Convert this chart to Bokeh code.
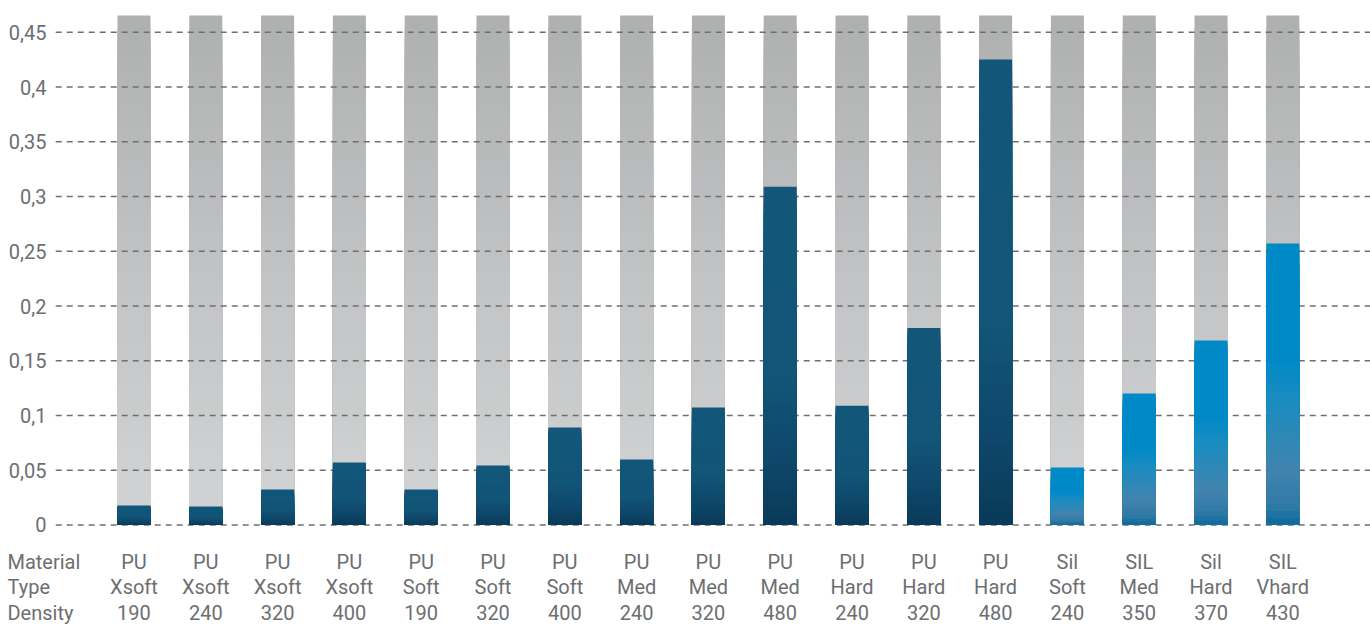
from bokeh.plotting import figure
from bokeh.embed import file_html
from bokeh.resources import INLINE
from bokeh.core.properties import value

# ---- data ----
materials = ["PU", "PU", "PU", "PU", "PU", "PU", "PU", "PU", "PU", "PU", "PU", "PU", "PU",
             "Sil", "SIL", "Sil", "SIL"]
types = ["Xsoft", "Xsoft", "Xsoft", "Xsoft", "Soft", "Soft", "Soft", "Med", "Med", "Med",
         "Hard", "Hard", "Hard", "Soft", "Med", "Hard", "Vhard"]
densities = ["190", "240", "320", "400", "190", "320", "400", "240", "320", "480",
             "240", "320", "480", "240", "350", "370", "430"]
values = [0.0178, 0.0169, 0.0324, 0.0571, 0.0324, 0.0543, 0.089, 0.0598, 0.1073, 0.309,
          0.109, 0.180, 0.4251, 0.0525, 0.1201, 0.1685, 0.2571]
row_headers = ["Material", "Type", "Density"]
y_ticks = [0, 0.05, 0.1, 0.15, 0.2, 0.25, 0.3, 0.35, 0.4, 0.45]
y_tick_labels = ["0", "0,05", "0,1", "0,15", "0,2", "0,25", "0,3", "0,35", "0,4", "0,45"]
background_max = 0.4653

# ---- style ----
TEXT_COLOR = "#6d6e71"
FONT = "Roboto"
BAR_W = 0.46
N = 40


def lerp(c1, c2, t):
    a = [int(c1[i:i + 2], 16) for i in (1, 3, 5)]
    b = [int(c2[i:i + 2], 16) for i in (1, 3, 5)]
    return "#%02x%02x%02x" % tuple(round(a[k] + (b[k] - a[k]) * t) for k in range(3))


def ramp(stops, f):
    for (f0, c0), (f1, c1) in zip(stops, stops[1:]):
        if f <= f1:
            return lerp(c0, c1, (f - f0) / (f1 - f0) if f1 > f0 else 0)
    return stops[-1][1]


grey_stops = [(0.0, "#d3d4d5"), (0.5, "#c2c3c4"), (1.0, "#afb0b0")]
pu_stops = [(0.0, "#0a3856"), (0.15, "#0d4466"), (0.45, "#125578"), (1.0, "#12567a")]
sil_stops = [(0.0, "#05659a"), (0.08, "#2f7aa6"), (0.2, "#4283ad"), (0.45, "#1a8cc0"),
             (0.6, "#0089c7"), (1.0, "#0089c7")]

p = figure(width=1370, height=624, output_backend="svg", toolbar_location=None,
           x_range=(-1.859, 17.221), y_range=(-0.09087, 0.4790),
           x_axis_location=None, y_axis_location=None, min_border=0)
p.outline_line_color = None
p.grid.visible = False
p.background_fill_color = "white"
p.border_fill_color = "white"

xs = list(range(len(values)))

# background grey bars (gradient built from stacked strips, tallest first)
bx, btop, bcol = [], [], []
for k in range(N, 0, -1):
    f = k / N
    for i in xs:
        bx.append(i)
        btop.append(background_max * f)
        bcol.append(ramp(grey_stops, f))
p.vbar(x=bx, bottom=0, top=btop, width=BAR_W, fill_color=bcol, line_color=None)

# gridlines (drawn over grey bars, under value bars)
p.segment(x0=[-1.09] * len(y_ticks), x1=[17.5] * len(y_ticks), y0=y_ticks, y1=y_ticks,
          line_color="#6f6f6f", line_width=1.6, line_dash="6 5")

# value bars
vx, vtop, vcol = [], [], []
for k in range(N, 0, -1):
    f = k / N
    for i, v in zip(xs, values):
        stops = sil_stops if materials[i].lower() == "sil" else pu_stops
        vx.append(i)
        vtop.append(v * f)
        vcol.append(ramp(stops, f))
p.vbar(x=vx, bottom=0, top=vtop, width=BAR_W, fill_color=vcol, line_color=None)

# y tick labels
p.text(x=[-1.219] * len(y_ticks), y=y_ticks, text=y_tick_labels,
       text_align="right", text_baseline="middle", text_font=value(FONT),
       text_font_size="20px", text_color=TEXT_COLOR)

# category labels
row_y = [-0.0338, -0.0566, -0.0800]
for row, labels in zip(row_y, [materials, types, densities]):
    p.text(x=xs, y=[row] * len(xs), text=labels, text_align="center",
           text_baseline="middle", text_font=value(FONT),
           text_font_size="20px", text_color=TEXT_COLOR)

p.text(x=[-1.762] * 3, y=row_y, text=row_headers, text_align="left",
       text_baseline="middle", text_font=value(FONT),
       text_font_size="20px", text_color=TEXT_COLOR)

open("out.html", "w").write(file_html(p, INLINE))
